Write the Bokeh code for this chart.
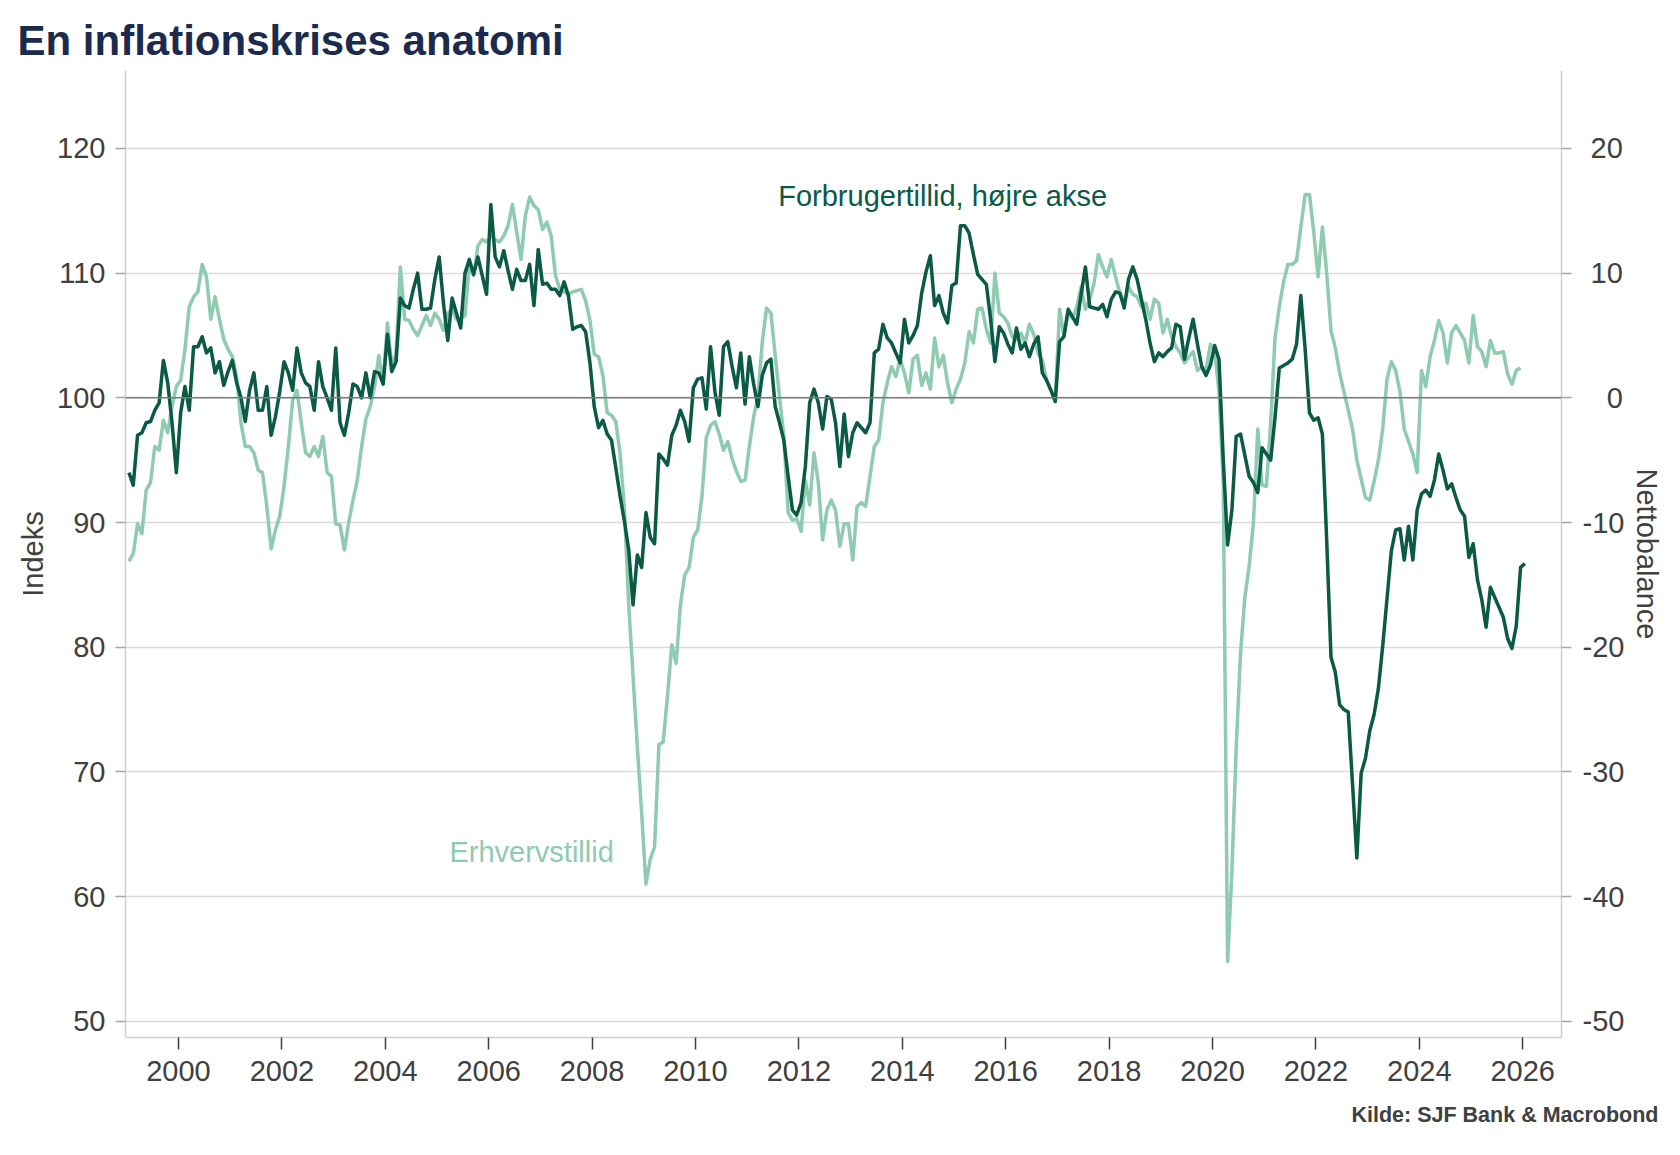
import numpy as np
from bokeh.plotting import figure
from bokeh.models import Range1d, LinearAxis, FixedTicker, Span, Label, Title, CustomJSTickFormatter
from bokeh.embed import file_html
from bokeh.resources import INLINE

FONT = "Liberation Sans"
DARK = "#0a5a46"
LIGHT = "#8ecbb0"
TEXT = "#404040"

# Forbrugertillid (nettobalance, right axis), monthly from Jan 1999 to Jan 2026
forbruger = [
    -6.0, -7.0, -3.0, -2.8, -2.0, -1.9, -1.0, -0.4, 3.0, 1.2, -2.0, -6.0,          # 1999
    -1.2, 0.9, -1.0, 4.1, 4.1, 4.9, 3.6, 4.0, 2.0, 2.9, 1.0, 2.1,                  # 2000
    3.0, 1.2, 0.0, -1.9, 0.6, 2.0, -1.0, -1.0, 0.9, -3.0, -1.5, 0.5,               # 2001
    2.9, 2.0, 0.6, 4.0, 2.0, 1.2, 0.9, -1.0, 2.9, 0.9, 0.0, -1.0,                  # 2002
    4.0, -2.0, -3.0, -1.2, 1.1, 0.9, 0.0, 2.0, 0.0, 2.1, 2.0, 1.1,                 # 2003
    5.1, 2.1, 2.9, 8.0, 7.4, 7.2, 8.7, 10.0, 7.1, 7.1, 7.2, 9.5,                   # 2004
    11.3, 7.6, 4.6, 8.0, 6.8, 5.6, 10.0, 11.1, 9.9, 11.3, 9.8, 8.3,                # 2005
    15.5, 11.3, 10.5, 11.8, 10.2, 8.7, 10.3, 9.4, 9.4, 10.7, 7.4, 11.9,            # 2006
    9.1, 9.2, 8.7, 8.7, 8.2, 9.3, 8.2, 5.5, 5.7, 5.8, 5.3, 2.8,                    # 2007
    -0.7, -2.4, -1.8, -2.9, -3.4, -5.6, -7.9, -9.9, -12.2, -16.6, -12.6, -13.6,    # 2008
    -9.2, -11.2, -11.7, -4.5, -4.9, -5.4, -3.0, -2.2, -1.0, -1.9, -3.5, 0.8,       # 2009
    1.5, 1.6, -0.9, 4.1, 0.5, -1.4, 4.1, 4.5, 2.5, 0.8, 3.6, -0.5,                 # 2010
    3.3, 1.1, -0.7, 1.8, 2.8, 3.1, -0.7, -2.0, -3.4, -6.3, -9.0, -9.4,             # 2011
    -8.4, -5.5, -0.4, 0.7, -0.4, -2.5, 0.1, -0.1, -2.0, -5.5, -1.3, -4.7,          # 2012
    -2.8, -2.0, -2.4, -2.8, -2.0, 3.6, 3.9, 5.9, 4.8, 4.4, 3.6, 2.8,               # 2013
    6.3, 4.4, 5.0, 5.8, 8.4, 10.1, 11.4, 7.4, 8.2, 6.8, 6.0, 9.0,                  # 2014
    9.2, 13.8, 13.8, 13.2, 11.5, 9.9, 9.5, 9.1, 6.3, 2.9, 5.7, 5.2,                # 2015
    4.3, 3.6, 5.6, 3.9, 4.4, 3.3, 4.3, 4.9, 2.0, 1.4, 0.6, -0.3,                   # 2016
    4.5, 4.9, 7.1, 6.5, 5.9, 8.3, 10.5, 7.3, 7.2, 7.1, 7.5, 6.5,                   # 2017
    7.9, 8.5, 8.4, 7.2, 9.5, 10.5, 9.5, 7.9, 6.3, 4.4, 2.9, 3.6,                   # 2018
    3.3, 3.7, 4.0, 5.9, 5.7, 3.1, 4.8, 6.3, 4.3, 2.5, 1.8, 2.6,                    # 2019
    4.2, 3.1, -5.0, -11.8, -9.0, -3.1, -2.9, -4.6, -6.3, -6.8, -7.6, -4.0,         # 2020
    -4.5, -5.0, -1.6, 2.4, 2.6, 2.8, 3.1, 4.3, 8.2, 3.9, -1.2, -1.8,               # 2021
    -1.6, -2.9, -11.4, -20.8, -22.0, -24.6, -25.0, -25.2, -31.0, -36.9, -30.1, -28.9,  # 2022
    -26.7, -25.4, -23.3, -19.9, -16.1, -12.3, -10.6, -10.5, -13.0, -10.3, -13.0, -9.0,  # 2023
    -7.7, -7.4, -7.9, -6.6, -4.5, -5.8, -7.3, -6.9, -8.0, -9.0, -9.5, -12.8,       # 2024
    -11.7, -14.6, -16.2, -18.4, -15.2, -16.0, -16.8, -17.6, -19.3, -20.1, -18.3, -13.6,  # 2025
    -13.3,                                                                          # 2026
]

# Erhvervstillid (indeks, left axis), monthly from Jan 1999 to Dec 2025
erhverv = [
    86.9, 87.5, 89.9, 89.1, 92.6, 93.2, 96.1, 95.8, 98.2, 97.2, 99.3, 100.9,          # 1999
    101.4, 103.9, 107.3, 108.1, 108.5, 110.7, 109.7, 106.3, 108.1, 106.3, 104.7, 103.9,  # 2000
    103.3, 101.7, 98.0, 96.1, 96.1, 95.6, 94.2, 94.0, 91.3, 87.9, 89.4, 90.5,          # 2001
    92.9, 96.1, 99.8, 100.6, 98.0, 95.6, 95.3, 96.1, 95.3, 96.9, 94.0, 93.7,           # 2002
    89.9, 89.8, 87.8, 90.0, 91.8, 93.4, 96.1, 98.3, 99.3, 100.9, 103.4, 101.2,         # 2003
    106.0, 102.5, 103.6, 110.5, 106.3, 106.2, 105.5, 105.0, 105.8, 106.6, 105.8, 106.8,  # 2004
    106.3, 105.4, 106.8, 107.1, 106.3, 106.3, 106.6, 110.6, 109.8, 112.2, 112.7, 112.5,  # 2005
    113.0, 112.7, 112.5, 113.0, 113.8, 115.5, 113.3, 111.1, 114.6, 116.1, 115.4, 115.1,  # 2006
    113.5, 114.1, 113.0, 109.8, 108.7, 108.5, 108.3, 108.5, 108.6, 108.7, 107.8, 106.2,  # 2007
    103.5, 103.3, 101.8, 98.8, 98.6, 98.1, 95.5, 91.1, 83.4, 77.7, 72.0, 66.7,         # 2008
    61.0, 63.0, 64.0, 72.2, 72.4, 76.1, 80.2, 78.7, 83.4, 85.8, 86.4, 88.8,            # 2009
    89.4, 92.1, 96.8, 97.8, 98.1, 97.1, 95.8, 96.5, 95.1, 94.1, 93.3, 93.4,            # 2010
    96.1, 98.5, 100.1, 104.5, 107.2, 106.8, 103.4, 100.1, 96.9, 90.8, 90.2, 90.3,      # 2011
    89.3, 93.4, 91.4, 95.6, 93.2, 88.6, 91.0, 91.8, 91.0, 88.1, 89.9, 89.9,            # 2012
    87.0, 91.3, 91.6, 91.3, 93.7, 96.1, 96.6, 99.6, 101.2, 102.5, 101.7, 103.1,        # 2013
    102.0, 100.4, 103.1, 103.4, 101.0, 102.0, 100.7, 104.8, 102.5, 103.4, 101.2, 99.6,  # 2014
    100.7, 101.5, 102.8, 105.3, 104.4, 107.1, 107.2, 105.5, 104.4, 110.0, 106.8, 106.5,  # 2015
    106.0, 104.9, 104.7, 105.2, 104.4, 105.9, 105.1, 103.6, 103.0, 101.4, 100.6, 99.8,  # 2016
    107.1, 105.0, 106.8, 106.4, 107.3, 108.9, 107.1, 107.9, 109.2, 111.5, 110.5, 109.7,  # 2017
    111.1, 109.7, 108.4, 107.6, 108.9, 108.3, 108.1, 107.3, 107.6, 106.3, 107.9, 107.6,  # 2018
    105.2, 106.3, 104.9, 104.1, 103.6, 102.8, 103.3, 103.7, 102.2, 102.5, 102.2, 104.3,  # 2019
    103.7, 100.5, 93.0, 54.8, 62.0, 72.0, 79.5, 84.0, 86.5, 90.0, 97.5, 93.0,          # 2020
    92.9, 98.0, 104.8, 107.3, 109.3, 110.7, 110.7, 111.0, 113.7, 116.3, 116.3, 113.3,  # 2021
    109.7, 113.7, 110.0, 105.4, 104.0, 102.0, 100.5, 99.0, 97.5, 95.0, 93.5, 92.0,     # 2022
    91.8, 93.3, 95.0, 97.5, 101.5, 102.9, 102.2, 100.5, 97.5, 96.5, 95.5, 94.0,        # 2023
    102.2, 100.9, 103.3, 104.6, 106.2, 105.2, 102.8, 105.2, 105.8, 105.2, 104.6, 102.8,  # 2024
    106.6, 104.1, 103.7, 102.5, 104.6, 103.6, 103.6, 103.7, 101.9, 101.1, 102.2, 102.4,  # 2025
]

year_ticks = list(range(2000, 2027, 2))
left_ticks = [50, 60, 70, 80, 90, 100, 110, 120]
right_ticks = [-50, -40, -30, -20, -10, 0, 10, 20]

# monthly observations placed mid-month on a decimal-year axis
t_f = 1999 + (np.arange(len(forbruger)) + 0.5) / 12
t_e = 1999 + (np.arange(len(erhverv)) + 0.5) / 12

X0, X1 = 1998.975, 2026.75
Y0, Y1 = 48.7, 126.25
SHIFT = 100  # right axis = left axis - 100

p = figure(width=1680, height=1155, output_backend="svg", toolbar_location=None,
           x_range=Range1d(X0, X1), y_range=Range1d(Y0, Y1),
           min_border_left=125, min_border_right=119,
           min_border_top=70, min_border_bottom=118)
p.extra_y_ranges = {"right": Range1d(Y0 - SHIFT, Y1 - SHIFT)}
p.outline_line_color = None
p.background_fill_color = "white"
p.border_fill_color = "white"

# title
p.title.text = "En inflationskrises anatomi"
p.title.text_font = FONT
p.title.text_font_size = "42px"
p.title.text_font_style = "bold"
p.title.text_color = "#1a2b4d"
p.title.align = "left"
p.title.offset = -108
p.title.standoff = 14

# grid
p.xgrid.visible = False
p.ygrid.ticker = FixedTicker(ticks=left_ticks)
p.ygrid.grid_line_color = "#d9d9d9"
p.ygrid.grid_line_width = 1.5


def style_axis(ax, tick_color, tick_len):
    ax.axis_line_color = "#d0d0d0"
    ax.axis_line_width = 1.5
    ax.major_tick_line_color = tick_color
    ax.major_tick_line_width = 1.5
    ax.major_tick_out = tick_len
    ax.major_tick_in = 0
    ax.minor_tick_line_color = None
    ax.major_label_text_font = FONT
    ax.major_label_text_font_size = "29px"
    ax.major_label_text_color = TEXT
    ax.axis_label_text_font = FONT
    ax.axis_label_text_font_size = "29px"
    ax.axis_label_text_font_style = "normal"
    ax.axis_label_text_color = TEXT


# left axis
ya = p.yaxis[0]
ya.ticker = FixedTicker(ticks=left_ticks)
style_axis(ya, "#a6a6a6", 10)
ya.major_label_standoff = 10
ya.axis_label = "Indeks"
ya.axis_label_standoff = 5

# bottom axis
xa = p.xaxis[0]
xa.ticker = FixedTicker(ticks=year_ticks)
style_axis(xa, "#404040", 12)
xa.major_label_standoff = 11

# right axis; numbers padded with figure/punctuation spaces so they line up on the right
ra = LinearAxis(y_range_name="right", ticker=FixedTicker(ticks=right_ticks),
                formatter=CustomJSTickFormatter(code="""
                    const s = Math.round(tick).toString();
                    if (tick === 0) return '\\u2007\\u2008' + s;
                    if (tick > 0) return '\\u2008' + s;
                    return s;
                """))
style_axis(ra, "#a6a6a6", 10)
ra.major_label_standoff = 11
ra.axis_label = "Nettobalance"
ra.axis_label_standoff = 4
p.add_layout(ra, "right")

# zero line of the balance axis
p.add_layout(Span(location=100, dimension="width", line_color="#7a7a7a", line_width=1.5))

# series
p.line(t_e, erhverv, line_color=LIGHT, line_width=3.5, line_join="round")
p.line(t_f, forbruger, y_range_name="right", line_color=DARK, line_width=3.5, line_join="round")

p.add_layout(Label(x=2011.6, y=116.15, text="Forbrugertillid, højre akse",
                   text_align="left", text_baseline="middle",
                   text_font=FONT, text_font_size="29px", text_color=DARK))
p.add_layout(Label(x=2005.24, y=63.55, text="Erhvervstillid",
                   text_align="left", text_baseline="middle",
                   text_font=FONT, text_font_size="29px", text_color=LIGHT))

# source line, right-aligned near the page edge
p.add_layout(Title(text="Kilde: SJF Bank & Macrobond", align="right", offset=-97, standoff=35,
                   text_font=FONT, text_font_size="21.5px", text_font_style="bold",
                   text_color=TEXT), "below")

with open("out.html", "w") as f:
    f.write(file_html(p, INLINE))
